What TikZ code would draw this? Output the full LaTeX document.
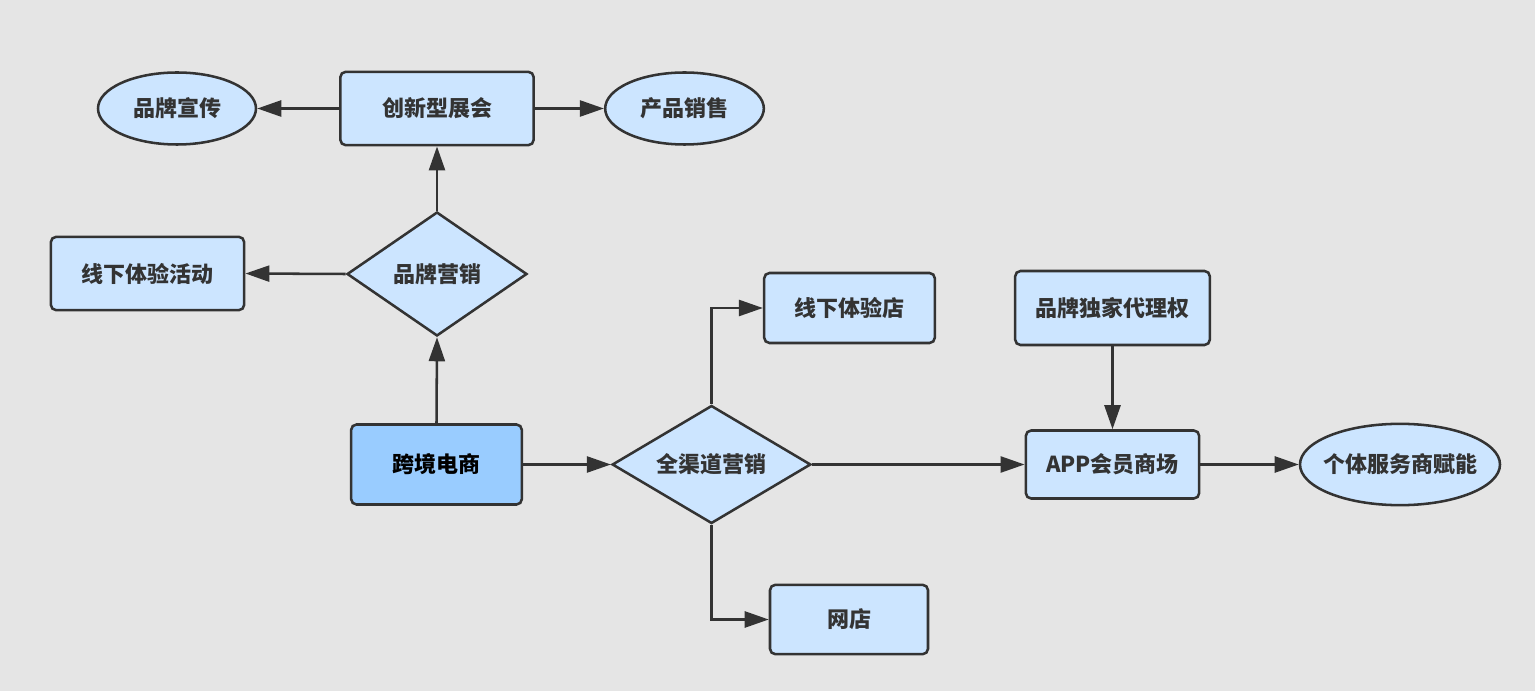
\documentclass[tikz,border=0pt]{standalone}
\usepackage{fontspec}
\setmainfont{Noto Sans CJK SC}
\usetikzlibrary{shapes.geometric,arrows.meta}
\definecolor{bg}{HTML}{E5E5E5}
\definecolor{nfill}{HTML}{CCE5FF}
\definecolor{dfill}{HTML}{99CCFF}
\definecolor{ink}{HTML}{333333}
\tikzset{
  txt/.style={text=ink, font=\fontsize{16.5}{19}\selectfont\bfseries, inner sep=0pt},
  base/.style={draw=ink, line width=1.9pt, fill=nfill, txt},
  boxnode/.style={base, rectangle, rounded corners=4pt},
  ovalnode/.style={base, ellipse},
  dianode/.style={base, diamond, aspect=1.5},
  conn/.style={draw=ink, line width=1.9pt, -{Triangle[length=18pt,width=12pt]}}
}
\begin{document}
\begin{tikzpicture}[x=0.75pt,y=-0.75pt]
\fill[bg] (0,0) rectangle (1535,691);
\useasboundingbox (0,0) rectangle (1535,691);
\node[ovalnode, minimum width=118.5pt, minimum height=54pt] (pp) at (177,108.5) {品牌宣传};
\node[boxnode, minimum width=145pt, minimum height=55pt] (cx) at (437,108.5) {创新型展会};
\node[ovalnode, minimum width=119pt, minimum height=54pt] (cp) at (684.5,108.5) {产品销售};
\node[boxnode, minimum width=145pt, minimum height=55pt] (xh) at (147.5,273.5) {线下体验活动};
\node[dianode, minimum width=135pt, minimum height=93pt] (yx) at (437,274) {品牌营销};
\node[boxnode, fill=dfill, text=black, minimum width=128pt, minimum height=60pt] (kj) at (436.5,464.5) {跨境电商};
\node[dianode, minimum width=149pt, minimum height=88.5pt] (qq) at (711.5,464.5) {全渠道营销};
\node[boxnode, minimum width=128pt, minimum height=52.5pt] (xd) at (849.5,308) {线下体验店};
\node[boxnode, minimum width=118.5pt, minimum height=52pt] (wd) at (849,619.5) {网店};
\node[boxnode, minimum width=146pt, minimum height=55.5pt] (dj) at (1112.5,308) {品牌独家代理权};
\node[boxnode, minimum width=130pt, minimum height=51pt] (app) at (1112.5,464.5) {APP会员商场};
\node[ovalnode, minimum width=150pt, minimum height=61pt, label={[txt]center:个体服务商赋能}] (gt) at (1400,464.5) {};
\draw[conn] (cx.west) -- (pp.east);
\draw[conn] (cx.east) -- (cp.west);
\draw[conn] (yx.north) -- (cx.south);
\draw[conn] (yx.west) -- (xh.east);
\draw[conn] (kj.north) -- (yx.south);
\draw[conn] (kj.east) -- (qq.west);
\draw[conn] (qq.north) |- (xd.west);
\draw[conn] (qq.south) |- (wd.west);
\draw[conn] (qq.east) -- (app.west);
\draw[conn] (dj.south) -- (app.north);
\draw[conn] (app.east) -- (gt.west);
\end{tikzpicture}
\end{document}
